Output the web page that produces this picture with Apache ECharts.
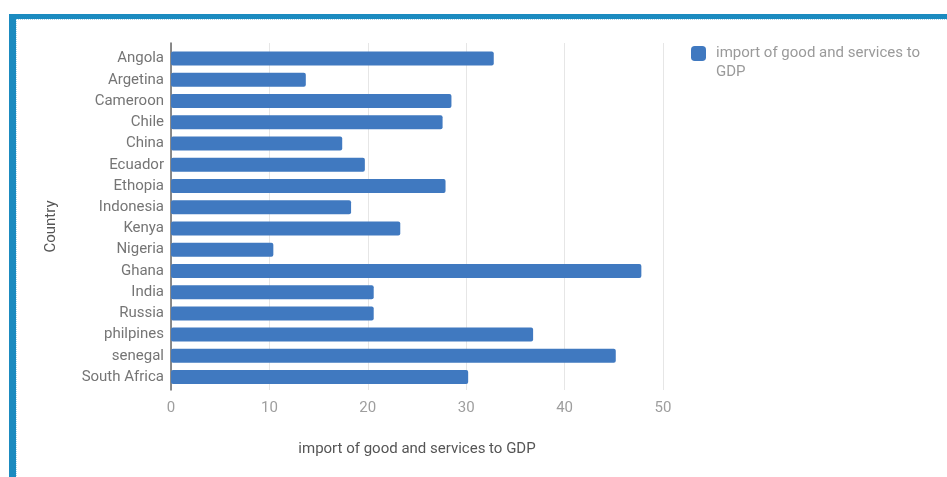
<!DOCTYPE html>
<html>
<head>
<meta charset="utf-8">
<script src="https://cdn.jsdelivr.net/npm/echarts@6/dist/echarts.min.js"></script>
<style>
  html, body { margin: 0; padding: 0; background: #ffffff; }
  #chart { width: 947px; height: 477px; }
</style>
</head>
<body>
<div id="chart"></div>
<script>
// Imports of goods and services as a share of GDP, by country
const countries = ['Angola', 'Argetina', 'Cameroon', 'Chile', 'China', 'Ecuador', 'Ethopia',
  'Indonesia', 'Kenya', 'Nigeria', 'Ghana', 'India', 'Russia', 'philpines', 'senegal', 'South Africa'];
const importShare = [32.8, 13.7, 28.5, 27.6, 17.4, 19.7, 27.9, 18.3, 23.3, 10.4, 47.8, 20.6, 20.6, 36.8, 45.2, 30.2];
const xTicks = [0, 10, 20, 30, 40, 50];
const seriesName = 'import of good and services to GDP';

const chart = echarts.init(document.getElementById('chart'), null, { renderer: 'canvas' });

const xMin = xTicks[0];
const xMax = xTicks[xTicks.length - 1];
const plotLeft = 171;
const plotRight = 947 - 663;
const font = 'Roboto';

chart.setOption({
  backgroundColor: '#ffffff',
  animation: false,
  textStyle: { fontFamily: font },
  graphic: [
    // frame around the panel
    { type: 'rect', shape: { x: 9, y: 14, width: 938, height: 5 }, style: { fill: '#1b8bc0' }, silent: true },
    { type: 'rect', shape: { x: 9, y: 14, width: 7, height: 463 }, style: { fill: '#1b8bc0' }, silent: true },
    { type: 'line', shape: { x1: 16, y1: 19.5, x2: 947, y2: 19.5 }, style: { stroke: '#a9d4ea', lineWidth: 1, lineDash: [1, 1] }, silent: true },
    { type: 'line', shape: { x1: 16.5, y1: 19, x2: 16.5, y2: 477 }, style: { stroke: '#a9d4ea', lineWidth: 1, lineDash: [1, 1] }, silent: true }
  ],
  legend: {
    show: true,
    left: 691,
    top: 25,
    padding: 0,
    orient: 'vertical',
    icon: 'roundRect',
    itemWidth: 15,
    itemHeight: 15,
    itemGap: 8,
    // leading blank line keeps the swatch beside the first text line
    formatter: () => '\nimport of good and services to\nGDP',
    textStyle: { color: '#9a9a9a', fontSize: 15, lineHeight: 19, fontFamily: font, padding: [0, 0, 0, 5] },
    data: [seriesName]
  },
  grid: [
    // gridlines, baseline and tick labels
    { left: plotLeft, right: plotRight, top: 43, bottom: 477 - 390, containLabel: false },
    // bars
    { left: plotLeft, right: plotRight, top: 48, bottom: 477 - 387.7, containLabel: false }
  ],
  xAxis: [
    {
      gridIndex: 0,
      type: 'value',
      min: xMin,
      max: xMax,
      interval: 10,
      name: seriesName,
      nameLocation: 'middle',
      nameGap: 52,
      nameTextStyle: { color: '#555555', fontSize: 15, fontFamily: font },
      axisLine: { show: false },
      axisTick: { show: false },
      axisLabel: { color: '#9e9e9e', fontSize: 15, margin: 11, fontFamily: font },
      splitLine: { show: true, lineStyle: { color: '#e6e6e6', width: 1 } }
    },
    {
      gridIndex: 1,
      type: 'value',
      min: xMin,
      max: xMax,
      interval: 10,
      show: false
    }
  ],
  yAxis: [
    {
      gridIndex: 0,
      type: 'value',
      min: 0,
      max: 1,
      name: 'Country',
      nameLocation: 'middle',
      nameGap: 112,
      nameTextStyle: { color: '#555555', fontSize: 15, fontFamily: font, padding: [0, 20, 0, 0] },
      axisLine: { show: true, onZero: false, lineStyle: { color: '#666666', width: 1.5 } },
      axisTick: { show: false },
      axisLabel: { show: false },
      splitLine: { show: false }
    },
    {
      gridIndex: 1,
      type: 'category',
      inverse: true,
      data: countries,
      axisLine: { show: false },
      axisTick: { show: false },
      axisLabel: { color: '#757575', fontSize: 15, margin: 7, fontFamily: font },
      splitLine: { show: false }
    }
  ],
  series: [
    {
      name: seriesName,
      type: 'bar',
      xAxisIndex: 1,
      yAxisIndex: 1,
      data: importShare,
      barWidth: 14,
      itemStyle: { color: '#4079c0', borderRadius: 2 },
      emphasis: { disabled: true }
    }
  ]
});
</script>
</body>
</html>
